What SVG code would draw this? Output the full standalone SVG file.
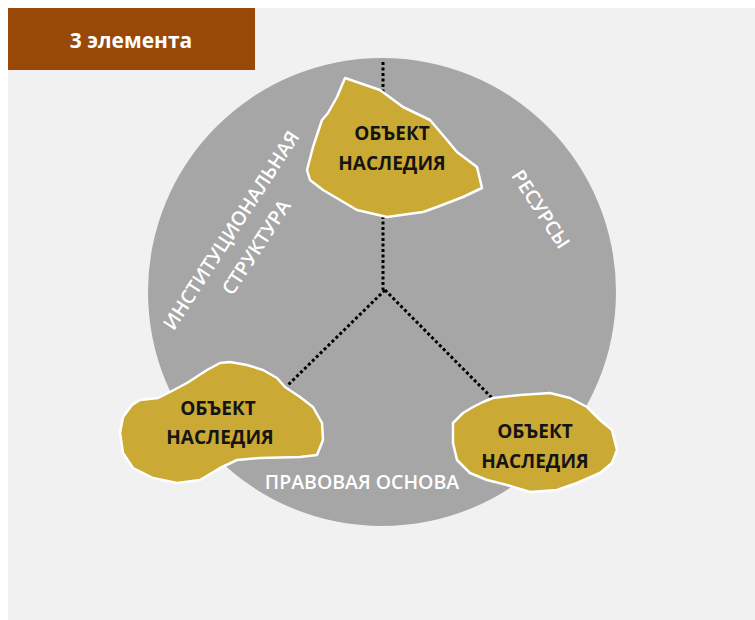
<svg xmlns="http://www.w3.org/2000/svg" width="755" height="620" viewBox="0 0 755 620">
<style>
.bg{fill:#f1f1f1}
.hdr{fill:#984807}
.hdrt{font-family:"Open Sans",sans-serif;font-weight:bold;font-size:21px;fill:#fff;text-anchor:middle}
.circ{fill:#a6a6a6}
.lbl{font-family:"Open Sans",sans-serif;font-weight:600;font-size:19.5px;fill:#fff;text-anchor:middle}
.conn{stroke:#000;stroke-width:3;stroke-dasharray:3 2.5;fill:none}
.blob{fill:#cba935;stroke:#fff;stroke-width:2.5;stroke-linejoin:round}
.nt{font-family:"Open Sans",sans-serif;font-weight:bold;font-size:19px;fill:#141414;text-anchor:middle}
</style>
<rect x="0" y="0" width="755" height="620" fill="#fff"/>
<rect class="bg" x="8" y="8" width="747" height="612"/>
<g id="header">
<rect class="hdr" x="8" y="8" width="247" height="62"/>
<text class="hdrt" x="131" y="48">3 элемента</text>
</g>
<g id="circle">
<circle class="circ" cx="382" cy="292" r="234"/>
<text class="lbl" transform="translate(237,234) rotate(-57)">ИНСТИТУЦИОНАЛЬНАЯ</text>
<text class="lbl" transform="translate(262,251) rotate(-57)">СТРУКТУРА</text>
<text class="lbl" transform="translate(535,213) rotate(57)">РЕСУРСЫ</text>
<text class="lbl" x="362" y="489">ПРАВОВАЯ ОСНОВА</text>
</g>
<g id="connectors">
<line class="conn" x1="383" y1="62" x2="383" y2="290"/>
<line class="conn" x1="385" y1="290" x2="287" y2="386"/>
<line class="conn" x1="385" y1="290" x2="493" y2="399"/>
</g>
<g id="node-top">
<path class="blob" d="M345,78 L380,90 L403,107 L430,120 L447,140 L457,152 L477,167 L482,188 L463,197 L437,207 L423,212 L387,217 L357,210 L340,200 L323,190 L310,180 L307,170 L313,147 L322,120 L328,113 L337,97 Z"/>
<text class="nt" x="392" y="140">ОБЪЕКТ</text>
<text class="nt" x="392" y="170">НАСЛЕДИЯ</text>
</g>
<g id="node-left">
<path class="blob" d="M230,362 L247,365 L263,370 L277,378 L285,387 L300,397 L313,407 L322,423 L323,440 L317,455 L300,457 L260,458 L237,460 L220,468 L200,480 L177,483 L153,478 L133,468 L123,453 L120,433 L123,417 L132,405 L140,400 L158,398 L170,392 L187,383 L207,370 L220,363 Z"/>
<text class="nt" x="218" y="415">ОБЪЕКТ</text>
<text class="nt" x="220" y="444">НАСЛЕДИЯ</text>
</g>
<g id="node-right">
<path class="blob" d="M493,398 L520,395 L550,393 L570,398 L587,407 L600,420 L612,430 L617,450 L612,463 L600,473 L577,483 L557,490 L530,492 L507,485 L487,480 L470,473 L457,460 L453,443 L453,423 L463,413 L473,407 L483,402 Z"/>
<text class="nt" x="535" y="438">ОБЪЕКТ</text>
<text class="nt" x="535" y="468">НАСЛЕДИЯ</text>
</g>
</svg>
